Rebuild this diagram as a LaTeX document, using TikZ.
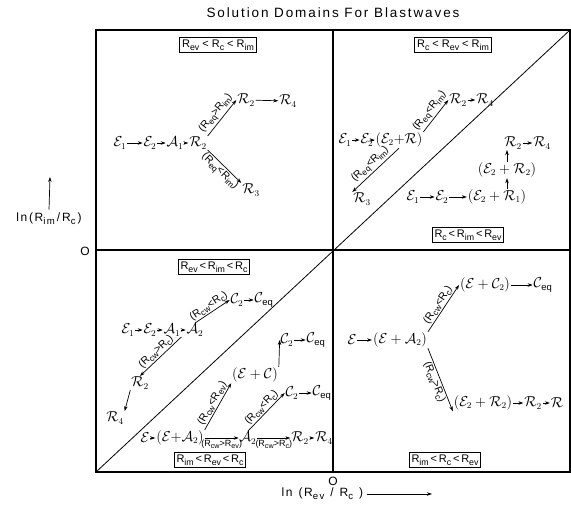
\documentclass[tikz,border=0pt]{standalone}
\usepackage{graphicx}
\usepackage{fontspec}
\setmainfont{Liberation Sans}
\newfontfamily\spacedfont[LetterSpace=14]{Liberation Sans}
\usetikzlibrary{arrows.meta}
\newcommand\pE{\mathcal{E}}
\newcommand\pA{\mathcal{A}}
\newcommand\pR{\mathcal{R}}
\newcommand\pC{\mathcal{C}}
\newcommand\Rs[1]{R\raisebox{-0.45ex}{\scalebox{0.8}{#1}}}
\begin{document}
\begin{tikzpicture}[x=1pt,y=-1pt,
  frame/.style={line width=1.1pt},
  dombox/.style={draw, line width=0.8pt, inner sep=2.2pt, font=\fontsize{11}{12}\selectfont},
  ph/.style={inner sep=0.8pt, font=\fontsize{13.5}{15}\selectfont},
  cond/.style={sloped, inner sep=1pt, font=\fontsize{10.5}{11}\selectfont},
  condb/.style={inner sep=0.5pt, font=\fontsize{9}{10}\selectfont},
  arr/.style={line width=0.7pt, -{Stealth[length=5pt,width=3.5pt]}},
  axis/.style={font=\fontsize{12}{13}\spacedfont},
]
\useasboundingbox (0,0) rectangle (571,514);
% title
\node[font=\fontsize{13.5}{15}\spacedfont] (title) at (333,13) {Solution Domains For Blastwaves};
% frame
\coordinate (tl) at (96,30); \coordinate (br) at (570,472);
\coordinate (tc) at (333,30); \coordinate (bc) at (333,472);
\coordinate (ml) at (96,250); \coordinate (mr) at (570,250);
\coordinate (bl) at (96,472); \coordinate (tr) at (570,30);
\draw[frame] (tl) rectangle (br);
\draw[frame] (tc) -- (bc);
\draw[frame] (ml) -- (mr);
\draw[line width=0.8pt] (bl) -- (tr);
% domain boxes
\node[dombox] (d1) at (218,45) {\Rs{ev} < \Rs{c} < \Rs{im}};
\node[dombox] (d2) at (453,45) {\Rs{c} < \Rs{ev} < \Rs{im}};
\node[dombox] (d3) at (468,235) {\Rs{c}\,<\,\Rs{im}\,<\,\Rs{ev}};
\node[dombox] (d4) at (214,267) {\Rs{ev}\,<\,\Rs{im}\,<\,\Rs{c}};
\node[dombox] (d5) at (210,460) {\Rs{im}\,<\,\Rs{ev}\,<\,\Rs{c}};
\node[dombox] (d6) at (445,460) {\Rs{im}\,<\,\Rs{c}\,<\,\Rs{ev}};
% axes
\node[axis] (ox) at (333,481) {O};
\node[axis, anchor=west] (xl) at (278,494) {ln\enspace(\Rs{ev}\enspace/\enspace\Rs{c}\enspace)};
\coordinate (xa) at (432,494);
\draw[arr] (xl.east) -- (xa);
\node[axis] (oy) at (85,251) {O};
\node[axis] (yl) at (49,219) {ln(\Rs{im}\,/\,\Rs{c}\,)};
\coordinate (ya) at (50,177);
\draw[arr] (yl.north) -- (ya);
% ---------- Q1: top-left
\node[ph] (e1) at (120,143) {$\pE_1$};
\node[ph] (e2) at (150,143) {$\pE_2$};
\node[ph] (a1) at (175,143) {$\pA_1$};
\node[ph] (r2) at (198,143) {$\pR_2$};
\node[ph] (r2u) at (246,100) {$\pR_2$};
\node[ph] (r4) at (288,101) {$\pR_4$};
\node[ph] (r3) at (251,190) {$\pR_3$};
\draw[arr] (e1) -- (e2);
\draw[arr] (e2) -- (a1);
\draw[arr] (a1) -- (r2);
\draw[arr] (r2u) -- (r4);
\draw[arr] (r2.north east) -- node[cond, above] {(\Rs{eq}>\Rs{im})} (r2u.west);
\draw[arr] (r2.south east) -- node[cond, below] {(\Rs{eq}<\Rs{im})} (r3.north west);
% ---------- Q2: top-right
\node[ph] (f1) at (345,140) {$\pE_1$};
\node[ph] (f2) at (367,140) {$\pE_2$};
\node[ph] (f3) at (399,140) {$(\pE_2{+}\pR)$};
\node[ph] (g2) at (458,100) {$\pR_2$};
\node[ph] (g4) at (485,100) {$\pR_4$};
\node[ph] (g3) at (362,199) {$\pR_3$};
\draw[arr] (f1) -- (f2);
\draw[arr] (f2) -- (f3);
\draw[arr] (g2) -- (g4);
\draw[arr] (f3.north east) -- node[cond, above] {(\Rs{eq}<\Rs{im})} (g2.west);
\draw[arr] (f3.south) -- node[cond, above] {(\Rs{eq}<\Rs{im})} (g3.north west);
\node[ph] (h1) at (413,197) {$\pE_1$};
\node[ph] (h2) at (442,197) {$\pE_2$};
\node[ph] (h3) at (497,197) {$(\pE_2 + \pR_1)$};
\node[ph] (h4) at (507,170) {$(\pE_2 + \pR_2)$};
\node[ph] (h5) at (513,143) {$\pR_2$};
\node[ph] (h6) at (542,143) {$\pR_4$};
\draw[arr] (h1) -- (h2);
\draw[arr] (h2) -- (h3);
\draw[arr] (h3.north -| h4.south) -- (h4.south);
\draw[arr] (h4.north) -- (h4.north |- h5.south);
\draw[arr] (h5) -- (h6);
% ---------- Q3: bottom-left, upper
\node[ph] (k1) at (128,330) {$\pE_1$};
\node[ph] (k2) at (150,330) {$\pE_2$};
\node[ph] (k3) at (172,330) {$\pA_1$};
\node[ph] (k4) at (195,330) {$\pA_2$};
\node[ph] (k5) at (237,300) {$\pC_2$};
\node[ph] (k6) at (264,300) {$\pC_{\mathrm{eq}}$};
\node[ph] (m2) at (140,383) {$\pR_2$};
\node[ph] (m4) at (115,418) {$\pR_4$};
\draw[arr] (k1) -- (k2);
\draw[arr] (k2) -- (k3);
\draw[arr] (k3) -- (k4);
\draw[arr] (k5) -- (k6);
\draw[arr] (k4.north) -- node[cond, above] {(\Rs{cw}<\Rs{c})} (k5.west);
\draw[arr] (k3.south east) -- node[cond, above] {(\Rs{cw}>\Rs{c})} (m2.north);
\draw[arr] (m2.south west) -- (m4.north east);
% ---------- Q5: bottom-left, lower
\node[ph] (n1) at (145,438) {$\pE$};
\node[ph] (n2) at (180,438) {$(\pE{+}\pA_2)$};
\node[ph] (n3) at (248,438) {$\pA_2$};
\node[ph] (n4) at (300,438) {$\pR_2$};
\node[ph] (n5) at (324,438) {$\pR_4$};
\draw[arr] (n1) -- (n2);
\draw[arr] (n2) -- node[condb, below=1pt] {(\Rs{cw}>\Rs{ev})} (n3);
\draw[arr] (n3) -- node[condb, below=1pt] {(\Rs{cw}>\Rs{c})} (n4);
\draw[arr] (n4) -- (n5);
\node[ph] (p1) at (255,375) {$(\pE + \pC)$};
\node[ph] (p2) at (287,340) {$\pC_2$};
\node[ph] (p3) at (316,340) {$\pC_{\mathrm{eq}}$};
\draw[arr] (n2.north east) -- node[cond, above] {(\Rs{cw}<\Rs{ev})} (p1.south west);
\draw[arr] (p1.north east) -- (p2.west);
\draw[arr] (p2) -- (p3);
\node[ph] (q1) at (292,393) {$\pC_2$};
\node[ph] (q2) at (322,393) {$\pC_{\mathrm{eq}}$};
\draw[arr] (n3.north) -- node[cond, above] {(\Rs{cw}<\Rs{c})} (q1.west);
\draw[arr] (q1) -- (q2);
% ---------- Q6: bottom-right
\node[ph] (s1) at (352,340) {$\pE$};
\node[ph] (s2) at (400,340) {$(\pE + \pA_2)$};
\node[ph] (t1) at (485,285) {$(\pE + \pC_2)$};
\node[ph] (t2) at (543,285) {$\pC_{\mathrm{eq}}$};
\draw[arr] (s1) -- (s2);
\draw[arr] (s2.north east) -- node[cond, above] {(\Rs{cw}<\Rs{c})} (t1.west);
\draw[arr] (t1) -- (t2);
\node[ph] (u1) at (483,403) {$(\pE_2 + \pR_2)$};
\node[ph] (u2) at (533,403) {$\pR_2$};
\node[ph] (u3) at (557,403) {$\pR$};
\draw[arr] (s2.south east) -- node[cond, below] {(\Rs{cw}>\Rs{c})} (u1.south west);
\draw[arr] (u1) -- (u2);
\draw[arr] (u2) -- (u3);
\end{tikzpicture}
\end{document}
